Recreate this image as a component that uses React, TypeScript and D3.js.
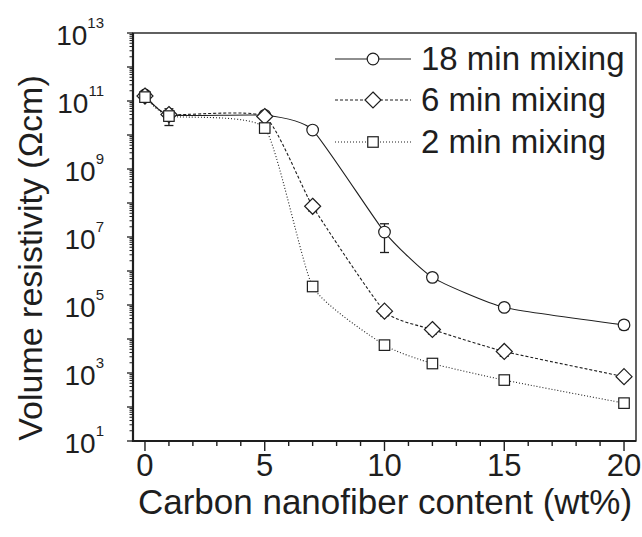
import * as d3 from "d3";

// carbon nanofiber content (wt%)
const content = [0, 1, 5, 7, 10, 12, 15, 20];

// volume resistivity (ohm cm) per mixing time
const mix18 = [1.5e11, 3.9e10, 3.8e10, 1.4e10, 1.4e7, 6.5e5, 8.5e4, 2.6e4];
const mix6 = [1.4e11, 4.0e10, 3.5e10, 8.0e7, 6.6e4, 1.9e4, 4.3e3, 7.8e2];
const mix2 = [1.3e11, 3.6e10, 1.6e10, 3.5e5, 6.6e3, 1.9e3, 6.2e2, 1.3e2];

// symmetric error bars
const err18 = [4e10, 2e10, 8e9, 3e9, 1.05e7, 1.6e5, 1.8e4, 7e3];
const err6 = [3e10, 1e10, 6e9, 2.2e7, 1.8e4, 5e3, 1.2e3, 1.8e2];
const err2 = [3e10, 1e10, 3e9, 8e4, 1.5e3, 4e2, 1.2e2, 3e1];

const seriesNames = ["18 min mixing", "6 min mixing", "2 min mixing"];
const xTickLabels = [0, 5, 10, 15, 20];
const yExponents = [1, 3, 5, 7, 9, 11, 13];

const WIDTH = 642;
const HEIGHT = 537;
const INK = "#1e1e1e";
const FONT = "'Liberation Sans', Arial, sans-serif";

type Series = { name: string; values: number[]; errs: number[]; dash: string; shape: string };

function Marker({ shape, cx, cy }: { shape: string; cx: number; cy: number }) {
  if (shape === "circle")
    return <circle cx={cx} cy={cy} r={5.8} fill="white" stroke={INK} strokeWidth={1.2} />;
  if (shape === "diamond") {
    const h = 8;
    return (
      <path
        d={`M${cx},${cy - h}L${cx + h},${cy}L${cx},${cy + h}L${cx - h},${cy}Z`}
        fill="white"
        stroke={INK}
        strokeWidth={1.2}
      />
    );
  }
  const s = 10.5;
  return <rect x={cx - s / 2} y={cy - s / 2} width={s} height={s} fill="white" stroke={INK} strokeWidth={1.2} />;
}

export default function App() {
  const left = 133;
  const right = 636;
  const top = 33;
  const bottom = 441;

  const x = d3.scaleLinear().domain([-0.5, 20.5]).range([left, right]);
  const y = d3.scaleLog().domain([1e1, 1e13]).range([bottom, top]);

  const series: Series[] = [
    { name: seriesNames[0], values: mix18, errs: err18, dash: "none", shape: "circle" },
    { name: seriesNames[1], values: mix6, errs: err6, dash: "3,2", shape: "diamond" },
    { name: seriesNames[2], values: mix2, errs: err2, dash: "1,2", shape: "square" },
  ];

  const line = d3
    .line<[number, number]>()
    .x((d) => x(d[0]))
    .y((d) => y(d[1]))
    .curve(d3.curveCardinal.tension(0.5));

  // y ticks: decades + minors
  const yMajor = d3.range(1, 14).map((e) => Math.pow(10, e));
  const yMinor: number[] = [];
  for (let e = 1; e < 13; e++) for (let m = 2; m <= 9; m++) yMinor.push(m * Math.pow(10, e));
  const xMinor = d3.range(0, 21);

  const legendX0 = 335;
  const legendX1 = 411;
  const legendY = [59, 100, 142];

  return (
    <svg
      width={WIDTH}
      height={HEIGHT}
      style={{ position: "absolute", left: 0, top: 0, background: "white" }}
      fontFamily={FONT}
    >
      <rect width={WIDTH} height={HEIGHT} fill="white" />

      {/* series lines */}
      {series.map((s) => (
        <path
          key={s.name + "-line"}
          d={line(content.map((c, i) => [c, s.values[i]] as [number, number])) || ""}
          fill="none"
          stroke={INK}
          strokeWidth={1.1}
          strokeDasharray={s.dash === "none" ? undefined : s.dash}
        />
      ))}

      {/* error bars */}
      {series.map((s) =>
        content.map((c, i) => {
          const cx = x(c);
          const lo = y(Math.max(s.values[i] - s.errs[i], 11));
          const hi = y(s.values[i] + s.errs[i]);
          return (
            <g key={s.name + "-err-" + i} stroke={INK} strokeWidth={1.3}>
              <line x1={cx} x2={cx} y1={lo} y2={hi} />
              <line x1={cx - 4.5} x2={cx + 4.5} y1={lo} y2={lo} />
              <line x1={cx - 4.5} x2={cx + 4.5} y1={hi} y2={hi} />
            </g>
          );
        })
      )}

      {/* markers */}
      {series.map((s) =>
        content.map((c, i) => <Marker key={s.name + "-m-" + i} shape={s.shape} cx={x(c)} cy={y(s.values[i])} />)
      )}

      {/* frame */}
      <rect x={left} y={top} width={right - left} height={bottom - top} fill="none" stroke={INK} strokeWidth={1.4} />
      <line x1={left} x2={left} y1={top} y2={bottom + 1} stroke={INK} strokeWidth={2.2} />
      <line x1={left - 1} x2={right} y1={bottom} y2={bottom} stroke={INK} strokeWidth={2.2} />

      {/* y ticks */}
      {yMajor.map((v) => (
        <line key={"ym" + v} x1={left - 6} x2={left} y1={y(v)} y2={y(v)} stroke={INK} strokeWidth={1.3} />
      ))}
      {yMinor.map((v) => (
        <line key={"yn" + v} x1={left - 3.5} x2={left} y1={y(v)} y2={y(v)} stroke={INK} strokeWidth={1} />
      ))}
      {yExponents.map((e) => (
        <text key={"yl" + e} x={104} y={y(Math.pow(10, e)) + 12} textAnchor="end" fill={INK} fontSize={28}>
          10
          <tspan dy={-17} fontSize={15}>
            {e}
          </tspan>
        </text>
      ))}

      {/* x ticks */}
      {xMinor.map((v) => (
        <line
          key={"xt" + v}
          x1={x(v)}
          x2={x(v)}
          y1={bottom}
          y2={bottom + (v % 5 === 0 ? 10 : 5)}
          stroke={INK}
          strokeWidth={1.4}
        />
      ))}
      {xTickLabels.map((v) => (
        <text key={"xl" + v} x={x(v)} y={476} textAnchor="middle" fill={INK} fontSize={31}>
          {v}
        </text>
      ))}

      {/* axis titles */}
      <text x={385} y={514} textAnchor="middle" fill={INK} fontSize={35}>
        Carbon nanofiber content (wt%)
      </text>
      <text
        transform={`translate(42,258) rotate(-90)`}
        textAnchor="middle"
        fill={INK}
        fontSize={34}
      >
        Volume resistivity (Ωcm)
      </text>

      {/* legend */}
      {series.map((s, i) => {
        const ly = legendY[i];
        const mid = (legendX0 + legendX1) / 2;
        return (
          <g key={s.name + "-leg"}>
            <line
              x1={legendX0}
              x2={legendX1}
              y1={ly}
              y2={ly}
              stroke={INK}
              strokeWidth={1.1}
              strokeDasharray={s.dash === "none" ? undefined : s.dash}
            />
            <Marker shape={s.shape} cx={mid} cy={ly} />
            <text x={421} y={ly + 11} fill={INK} fontSize={33}>
              {s.name}
            </text>
          </g>
        );
      })}
    </svg>
  );
}
